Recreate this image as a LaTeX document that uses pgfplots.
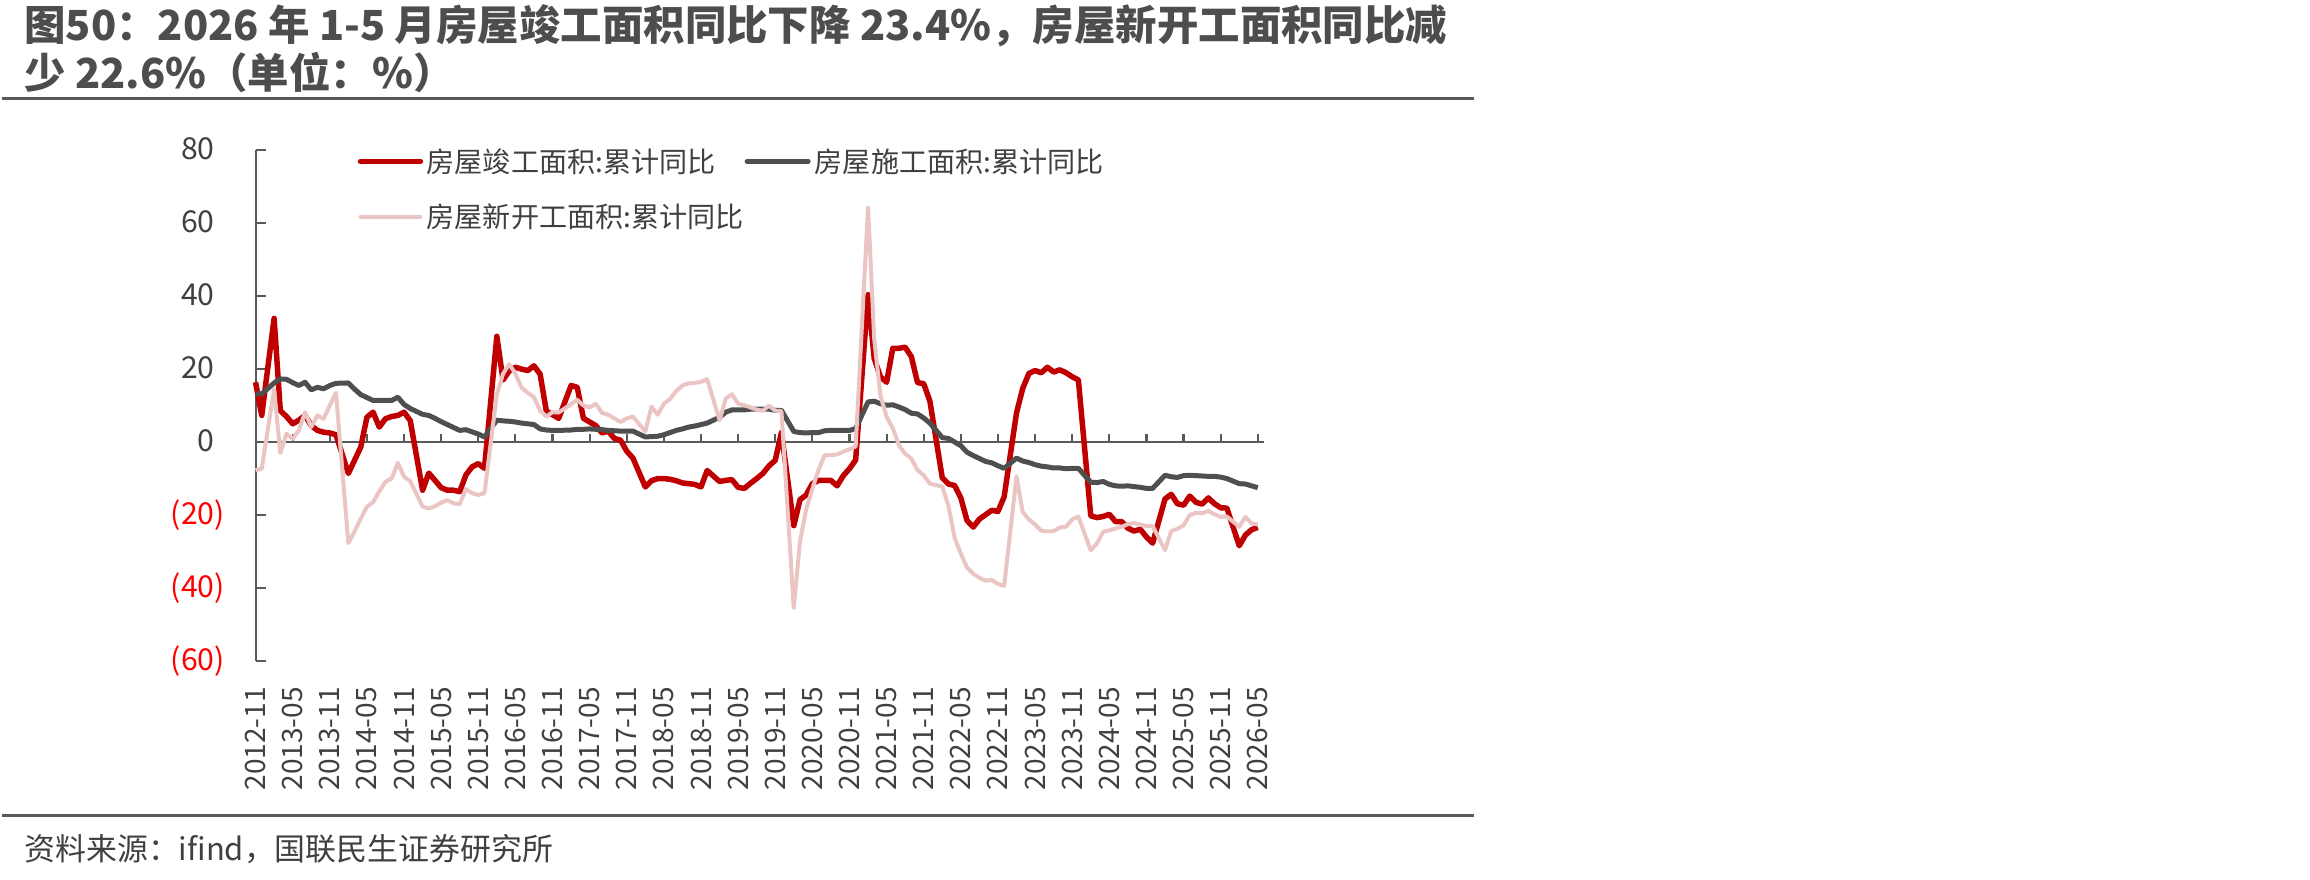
\documentclass[border=0pt]{standalone}
\usepackage{fontspec}
\setmainfont{Noto Sans CJK SC}
\usepackage{pgfplots}
\usepackage{pgfplotstable}
\pgfplotsset{compat=1.18}

\definecolor{cred}{HTML}{C00000}
\definecolor{cgray}{HTML}{4F4F4F}
\definecolor{cpink}{HTML}{EBC4C4}
\definecolor{txt}{HTML}{404040}
\definecolor{ttl}{HTML}{4D4D4D}
\definecolor{axgray}{HTML}{595959}
\definecolor{negred}{HTML}{FF0000}

% month index (0 = 2012-11), cumulative YoY (%): completed, under construction, new starts
\pgfplotstableread{
m red gray pink
0 16.4 13.2 -7.7
1 7.3 13.2 -7.3
3 33.9 16.2 14.5
4 8.6 17.3 -3.0
5 7.0 17.2 2.3
6 5.0 16.3 0.9
7 6.0 15.5 3.2
8 7.3 16.4 8.2
9 4.5 14.3 4.1
10 3.2 15.0 7.3
11 2.7 14.6 6.4
12 2.5 15.5 10.0
13 2.0 16.1 13.5
15 -8.6 16.2 -27.7
16 -5.0 14.5 -24.5
17 -1.4 13.0 -21.0
18 6.8 12.2 -17.7
19 8.2 11.4 -16.5
20 4.1 11.4 -13.5
21 6.4 11.4 -10.9
22 7.0 11.4 -10.0
23 7.3 12.3 -5.7
24 8.2 10.3 -9.5
25 5.9 9.2 -10.7
27 -13.2 7.6 -17.7
28 -8.5 7.3 -18.2
29 -10.5 6.5 -17.6
30 -12.5 5.6 -16.6
31 -13.2 4.8 -15.9
32 -13.2 4.0 -16.8
33 -13.6 3.2 -17.0
34 -9.0 3.4 -12.9
35 -6.8 2.8 -14.0
36 -5.9 2.2 -14.5
37 -7.2 1.4 -14.0
39 29.0 6.0 13.0
40 17.0 5.8 18.7
41 19.5 5.7 21.4
42 20.5 5.5 18.7
43 20.0 5.2 14.9
44 19.6 5.0 13.5
45 20.9 4.8 12.3
46 18.6 3.6 8.6
47 8.5 3.3 7.0
48 7.5 3.2 8.2
49 6.5 3.2 8.1
51 15.5 3.3 10.4
52 15.0 3.5 11.6
53 6.5 3.5 10.0
54 5.5 3.6 9.5
55 4.5 3.5 10.5
56 2.5 3.4 8.0
57 3.0 3.2 7.5
58 1.0 3.1 6.5
59 0.5 3.0 5.5
60 -2.5 3.0 6.5
61 -4.4 3.0 7.0
63 -12.3 1.4 2.9
64 -10.6 1.5 9.7
65 -10.0 1.6 7.5
66 -10.0 2.0 10.5
67 -10.2 2.6 11.8
68 -10.6 3.2 14.0
69 -11.2 3.6 15.5
70 -11.4 4.1 16.1
71 -11.6 4.4 16.2
72 -12.3 4.8 16.5
73 -7.8 5.2 17.2
75 -10.8 6.8 6.0
76 -10.5 8.2 11.9
77 -10.3 8.8 13.1
78 -12.4 8.8 10.5
79 -12.7 8.8 10.1
80 -11.3 9.0 9.5
81 -10.0 9.0 8.9
82 -8.6 9.0 8.6
83 -6.5 9.0 10.0
84 -5.0 8.7 8.6
85 2.6 8.7 8.5
87 -22.9 2.9 -45.5
88 -15.8 2.6 -27.2
89 -14.5 2.5 -18.4
90 -11.4 2.6 -12.8
91 -10.5 2.6 -7.6
92 -10.5 3.1 -3.6
93 -10.5 3.2 -3.6
94 -12.0 3.2 -3.4
95 -9.2 3.2 -2.6
96 -7.3 3.2 -2.0
97 -4.9 3.7 -1.2
99 40.4 11.0 64.3
100 22.9 11.2 28.2
101 17.9 10.5 12.8
102 16.4 10.1 6.9
103 25.7 10.2 3.8
104 25.7 9.6 -0.9
105 26.0 8.9 -3.2
106 23.4 7.9 -4.5
107 16.3 7.7 -7.7
108 16.0 6.6 -9.1
109 11.2 5.2 -11.4
111 -9.8 1.2 -12.2
112 -11.5 1.0 -17.5
113 -11.9 0.0 -26.3
114 -15.3 -1.0 -30.6
115 -21.5 -2.8 -34.4
116 -23.3 -3.7 -36.1
117 -21.1 -4.5 -37.2
118 -19.9 -5.3 -38.0
119 -18.7 -5.7 -37.8
120 -19.0 -6.5 -38.9
121 -15.0 -7.2 -39.4
123 8.0 -4.4 -9.4
124 14.7 -5.2 -19.2
125 18.8 -5.6 -21.2
126 19.6 -6.2 -22.6
127 19.0 -6.6 -24.3
128 20.5 -6.8 -24.5
129 19.2 -7.1 -24.4
130 19.8 -7.1 -23.4
131 19.0 -7.3 -23.2
132 17.9 -7.2 -21.2
133 17.0 -7.2 -20.4
135 -20.2 -11.0 -29.7
136 -20.7 -11.1 -27.8
137 -20.4 -10.8 -24.6
138 -19.8 -11.6 -24.2
139 -21.8 -12.0 -23.7
140 -21.8 -12.1 -23.2
141 -23.6 -12.0 -22.5
142 -24.4 -12.2 -22.2
143 -23.9 -12.4 -22.6
144 -26.0 -12.7 -23.0
145 -27.7 -12.7 -23.0
147 -15.6 -9.1 -29.6
148 -14.3 -9.5 -24.4
149 -16.9 -9.7 -23.8
150 -17.3 -9.2 -22.8
151 -14.8 -9.1 -20.0
152 -16.5 -9.2 -19.4
153 -17.0 -9.3 -19.5
154 -15.3 -9.4 -18.9
155 -16.9 -9.4 -19.8
156 -18.0 -9.6 -20.5
157 -18.1 -10.0 -20.4
159 -28.4 -11.4 -23.2
160 -25.5 -11.5 -20.5
161 -24.0 -12.0 -22.3
162 -23.4 -12.5 -22.6
}\datatable

\begin{document}
\begin{tikzpicture}
% page frame
\path (0,0) rectangle (231mm,88mm);

% title
\node[anchor=west, inner sep=0pt, text=ttl, font=\fontsize{11.8}{14}\selectfont\bfseries]
  at (2.2mm,85.4mm) {图50：2026 年 1-5 月房屋竣工面积同比下降 23.4\%，房屋新开工面积同比减};
\node[anchor=west, inner sep=0pt, text=ttl, font=\fontsize{11.8}{14}\selectfont\bfseries]
  at (2.2mm,80.7mm) {少 22.6\%（单位：\%）};
\draw[axgray, line width=0.35mm] (0,78.15mm) -- (147.3mm,78.15mm);

\begin{axis}[
  at={(25.4mm,21.85mm)}, anchor=south west,
  scale only axis, width=100.3mm, height=51.12mm,
  xmin=0, xmax=162, ymin=-60, ymax=80,
  axis x line=bottom, axis y line=left,
  x axis line style={draw=none},
  y axis line style={axgray, line width=0.2mm, -},
  xtick={0,6,...,162},
  xticklabels={2012-11,2013-05,2013-11,2014-05,2014-11,2015-05,2015-11,2016-05,2016-11,2017-05,2017-11,2018-05,2018-11,2019-05,2019-11,2020-05,2020-11,2021-05,2021-11,2022-05,2022-11,2023-05,2023-11,2024-05,2024-11,2025-05,2025-11,2026-05},
  xtick style={draw=none},
  ytick={-60,-40,...,80},
  yticklabels={\textcolor{negred}{(60)},\textcolor{negred}{(40)},\textcolor{negred}{(20)},0\phantom{)},20\phantom{)},40\phantom{)},60\phantom{)},80\phantom{)}},
  ytick style={axgray, line width=0.2mm},
  tick align=inside, major tick length=1mm,
  yticklabel style={anchor=east, inner sep=0pt, font=\fontsize{8.6}{10}\selectfont, text=txt},
  yticklabel shift=3.0mm,
  xticklabel style={rotate=90, anchor=east, inner sep=0pt, font=\fontsize{8}{10}\selectfont, text=txt},
  xticklabel shift=2.55mm,
  clip=false,
]
% zero line with its ticks
\draw[axgray, line width=0.22mm] (axis cs:0,0) -- (axis cs:163,0);
\pgfplotsinvokeforeach{6,12,...,162}{\draw[axgray, line width=0.22mm] (axis cs:#1,0) -- ++(0pt,0.8mm);}

\addplot[cred, line width=0.55mm, line join=round] table[x=m, y=red] {\datatable};
\addplot[cgray, line width=0.5mm, line join=round] table[x=m, y=gray] {\datatable};
\addplot[cpink, line width=0.4mm, line join=round] table[x=m, y=pink] {\datatable};
\end{axis}

% legend
\draw[cred, line width=0.55mm, line cap=round] (35.9mm,71.85mm) -- (41.9mm,71.85mm);
\node[anchor=west, inner sep=0pt, text=txt, font=\fontsize{8}{10}\selectfont] at (42.46mm,71.85mm) {房屋竣工面积:累计同比};
\draw[cgray, line width=0.5mm, line cap=round] (74.6mm,71.85mm) -- (80.7mm,71.85mm);
\node[anchor=west, inner sep=0pt, text=txt, font=\fontsize{8}{10}\selectfont] at (81.3mm,71.85mm) {房屋施工面积:累计同比};
\draw[cpink, line width=0.4mm, line cap=round] (35.9mm,66.3mm) -- (41.9mm,66.3mm);
\node[anchor=west, inner sep=0pt, text=txt, font=\fontsize{8}{10}\selectfont] at (42.46mm,66.3mm) {房屋新开工面积:累计同比};

% footer
\draw[axgray, line width=0.35mm] (0,6.4mm) -- (147.3mm,6.4mm);
\node[anchor=west, inner sep=0pt, text=txt, font=\fontsize{8.8}{10}\selectfont]
  at (2.2mm,3.0mm) {资料来源：ifind，国联民生证券研究所};
\end{tikzpicture}
\end{document}
